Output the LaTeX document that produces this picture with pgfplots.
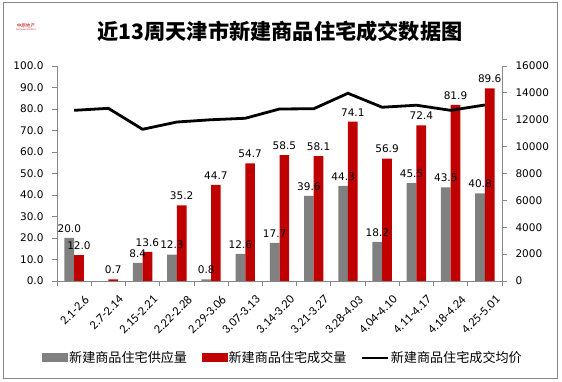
\documentclass[border=0pt]{standalone}
\usepackage{pgfplots}
\pgfplotsset{compat=1.18}
\usepackage{fontspec}
\setmainfont{DejaVu Sans}
\newfontfamily\cjk{Noto Sans CJK SC}
\newfontfamily\calib{Carlito}
\definecolor{barGray}{RGB}{128,128,128}
\definecolor{barRed}{RGB}{192,0,0}
\definecolor{axGray}{RGB}{134,134,134}
\begin{document}
\begin{tikzpicture}[x=1pt,y=1pt]
\path[use as bounding box] (0,0) rectangle (562,382);
\draw[axGray, line width=0.9pt] (3.3,3.7) rectangle (557.3,379.3);
\node[font=\cjk\bfseries\fontsize{21.2}{25}\selectfont] at (280,351) {近13周天津市新建商品住宅成交数据图};
\node[text=barRed, font=\cjk\fontsize{4.6}{5}\selectfont, inner sep=0pt] at (26,356.5) {中原地产};
\node[text=barRed, font=\fontsize{1.8}{2}\selectfont, inner sep=0pt] at (26,352.5) {CENTALINE PROPERTY};

\begin{axis}[
  at={(57pt,101pt)}, anchor=south west,
  scale only axis, width=445pt, height=215pt,
  xmin=-0.5, xmax=12.5, ymin=0, ymax=100,
  axis x line*=bottom, axis y line*=left,
  axis line style={axGray, line width=0.8pt},
  ybar=0pt, bar width=9.7pt,
  xtick={0,...,12},
  xticklabels={2.1-2.6,2.7-2.14,2.15-2.21,2.22-2.28,2.29-3.06,3.07-3.13,3.14-3.20,3.21-3.27,3.28-4.03,4.04-4.10,4.11-4.17,4.18-4.24,4.25-5.01},
  minor xtick={-0.5,0.5,...,12.5},
  major x tick style={draw=none},
  minor x tick style={axGray, line width=0.8pt},
  ytick={0,10,...,100},
  y tick style={axGray, line width=0.8pt},
  tick align=outside,
  major tick length=5pt, minor tick length=5pt,
  /pgf/number format/assume math mode=true,
  yticklabel style={font=\fontsize{10.5}{12}\selectfont, xshift=-5pt, /pgf/number format/fixed, /pgf/number format/fixed zerofill, /pgf/number format/precision=1},
  xticklabel style={font=\calib\fontsize{12.5}{14}\selectfont, rotate=45, anchor=north east, inner sep=0pt, yshift=-13pt, xshift=1pt},
  nodes near coords={\pgfmathprintnumber[fixed,fixed zerofill,precision=1]{\pgfplotspointmeta}},
  nodes near coords style={font=\fontsize{10.5}{12}\selectfont, yshift=2pt},
  legend columns=3,
  legend style={draw=none, fill=none, at={(-0.0337,-0.358)}, anchor=west, inner sep=0pt,
    font=\cjk\fontsize{13.1}{15}\selectfont, nodes={inner sep=1pt},
    /tikz/every even column/.append style={column sep=13.5pt}},
]
\addplot[fill=barGray, draw=none, bar shift=-4.85pt, nodes near coords=,
  legend image code/.code={\fill[barGray] (0pt,-4.5pt) rectangle (26pt,4.5pt);}]
  coordinates {(0,20.0) (2,8.4) (3,12.3) (4,0.8) (5,12.6) (6,17.7) (7,39.6) (8,44.3) (9,18.2) (10,45.5) (11,43.5) (12,40.8)};
\addlegendentry{新建商品住宅供应量}
\addplot[fill=barRed, draw=none, bar shift=4.85pt,
  legend image code/.code={\fill[barRed] (0pt,-4.5pt) rectangle (26pt,4.5pt);}]
  coordinates {(0,12.0) (1,0.7) (2,13.6) (3,35.2) (4,44.7) (5,54.7) (6,58.5) (7,58.1) (8,74.1) (9,56.9) (10,72.4) (11,81.9) (12,89.6)};
\addlegendentry{新建商品住宅成交量}
\addplot[draw=none, fill=none, bar shift=-4.85pt, forget plot]
  coordinates {(0,20.0) (2,8.4) (3,12.3) (4,0.8) (5,12.6) (6,17.7) (7,39.6) (8,44.3) (9,18.2) (10,45.5) (11,43.5) (12,40.8)};
\addlegendimage{legend image code/.code={\draw[black, line width=2.8pt] (0pt,0pt) -- (26pt,0pt);}}
\addlegendentry{新建商品住宅成交均价}
\end{axis}

\begin{axis}[
  at={(57pt,101pt)}, anchor=south west,
  scale only axis, width=445pt, height=215pt,
  xmin=-0.5, xmax=12.5, ymin=0, ymax=16000,
  axis x line=none, axis y line*=right,
  axis line style={axGray, line width=0.8pt},
  ytick={0,2000,...,16000},
  scaled y ticks=false,
  y tick style={axGray, line width=0.8pt},
  tick align=outside, major tick length=5pt,
  /pgf/number format/assume math mode=true,
  yticklabel style={font=\fontsize{10.5}{12}\selectfont, xshift=5pt, /pgf/number format/1000 sep={}},
]
\addplot[black, line width=2.8pt, line join=round, mark=none]
  coordinates {(0,12700) (1,12850) (2,11290) (3,11830) (4,12000) (5,12110) (6,12800) (7,12820) (8,13970) (9,12930) (10,13080) (11,12700) (12,13100)};
\end{axis}
\end{tikzpicture}
\end{document}
